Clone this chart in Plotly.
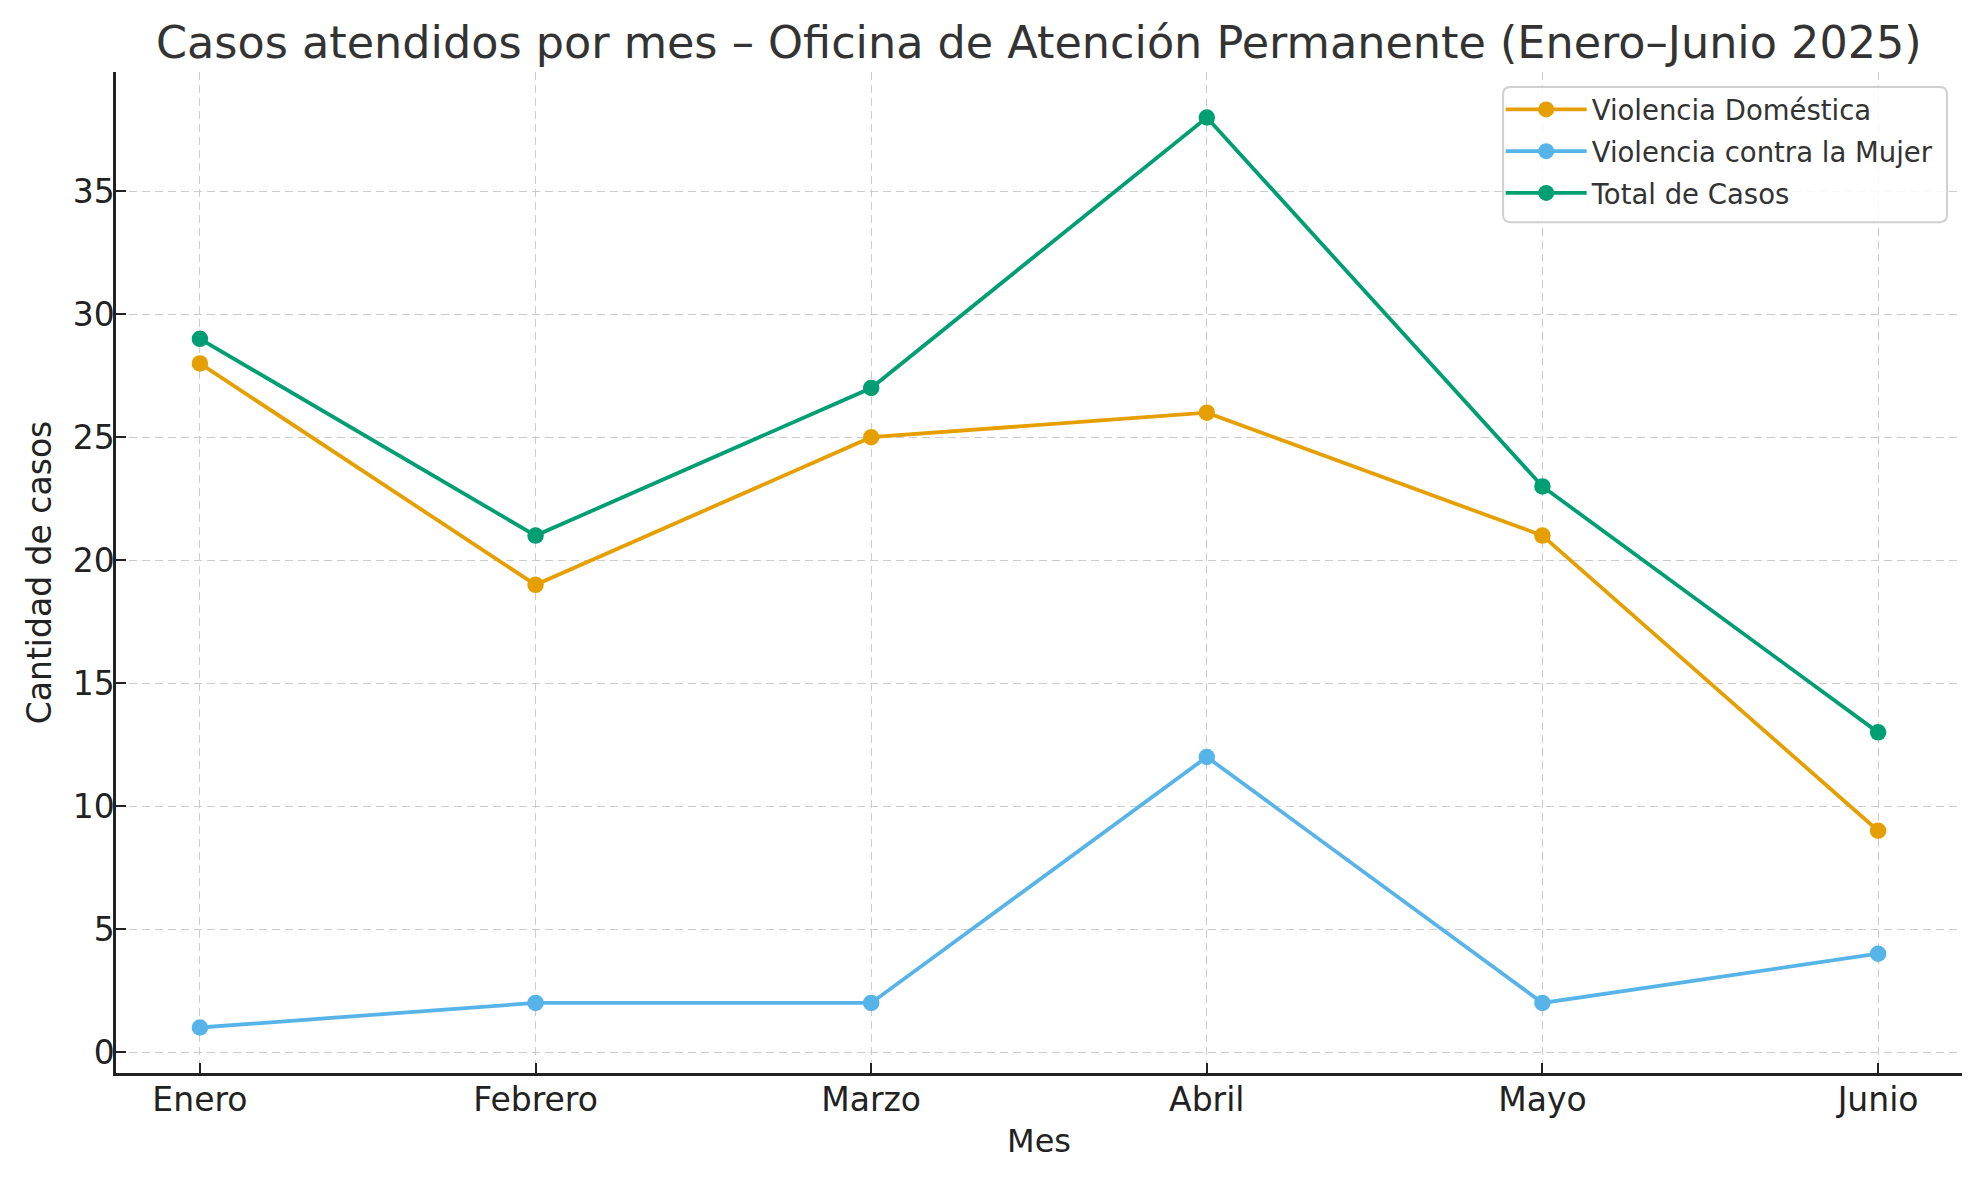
import plotly.graph_objects as go

meses = ["Enero", "Febrero", "Marzo", "Abril", "Mayo", "Junio"]
violencia_domestica = [28, 19, 25, 26, 21, 9]
violencia_mujer = [1, 2, 2, 12, 2, 4]
total_casos = [29, 21, 27, 38, 23, 13]

series = [
    ("Violencia Doméstica", violencia_domestica, "#E69F00"),
    ("Violencia contra la Mujer", violencia_mujer, "#56B4E9"),
    ("Total de Casos", total_casos, "#009E73"),
]

FONT = "DejaVu Sans"
fig = go.Figure()
for i, (name, vals, color) in enumerate(series):
    fig.add_trace(go.Scatter(
        x=list(range(len(meses))), y=vals, name=name, mode="lines+markers",
        legendgroup=f"g{i}",
        line=dict(color=color, width=3.8),
        marker=dict(color=color, size=16.5),
    ))

# legend frame (matplotlib-style rounded box)
x0, x1, y0, y1 = 0.7514, 0.9919, 0.8499, 0.9850
r = 0.004
ry = r * 1846 / 1001
fig.add_shape(
    type="path", xref="paper", yref="paper",
    path=(f"M{x0+r},{y0} L{x1-r},{y0} Q{x1},{y0} {x1},{y0+ry} "
          f"L{x1},{y1-ry} Q{x1},{y1} {x1-r},{y1} L{x0+r},{y1} Q{x0},{y1} {x0},{y1-ry} "
          f"L{x0},{y0+ry} Q{x0},{y0} {x0+r},{y0} Z"),
    line=dict(color="#d0d0d0", width=2), fillcolor="rgba(255,255,255,0.85)",
    layer="above",
)

fig.update_layout(
    width=1971, height=1172,
    margin=dict(l=108, r=17, t=64, b=107),
    paper_bgcolor="white", plot_bgcolor="white",
    font=dict(family=FONT, color="#222"),
    title=dict(
        text="Casos atendidos por mes – Oficina de Atención Permanente (Enero–Junio 2025)",
        font=dict(family=FONT, size=44.5, color="#333"),
        x=0.523, xanchor="center", y=0.9705, yanchor="middle",
    ),
    legend=dict(
        x=0.7501, xanchor="left", y=0.987, yanchor="top",
        bgcolor="rgba(0,0,0,0)", borderwidth=0,
        font=dict(family=FONT, size=27.5, color="#333"),
        tracegroupgap=3, itemwidth=81,
    ),
    showlegend=True,
)

grid = dict(showgrid=True, gridcolor="#cccccc", gridwidth=1.3, griddash="8px,5px")
fig.update_xaxes(
    range=[-0.25, 5.25],
    tickmode="array", tickvals=list(range(len(meses))), ticktext=meses,
    tickfont=dict(family=FONT, size=33, color="#222"),
    showline=True, linecolor="#222", linewidth=2.5, mirror=False,
    ticks="inside", ticklen=10, tickwidth=2, tickcolor="#222",
    zeroline=False, ticklabelstandoff=-4,
    title=dict(text="Mes", font=dict(family=FONT, size=32, color="#222"), standoff=12),
    **grid,
)
fig.update_yaxes(
    range=[-0.85, 39.85],
    tickmode="array", tickvals=[0, 5, 10, 15, 20, 25, 30, 35],
    tickfont=dict(family=FONT, size=33, color="#222"),
    showline=True, linecolor="#222", linewidth=2.5, mirror=False,
    ticks="inside", ticklen=10, tickwidth=2, tickcolor="#222",
    zeroline=False, ticklabelstandoff=-8,
    title=dict(text="Cantidad de casos", font=dict(family=FONT, size=33, color="#222"), standoff=12),
    **grid,
)

fig.write_html("out.html")
